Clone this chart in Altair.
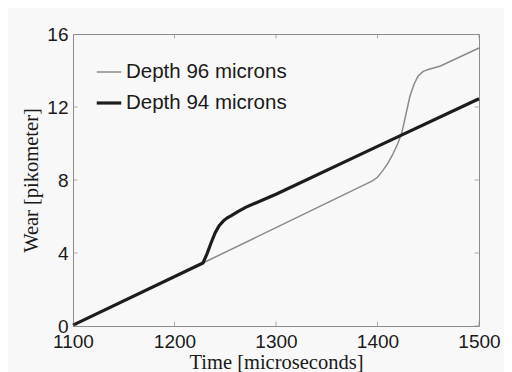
import altair as alt
import pandas as pd

series_names = ["Depth 96 microns", "Depth 94 microns"]

t96 = [1100, 1228, 1300, 1395, 1400, 1405, 1410, 1415, 1420, 1424, 1428, 1432, 1436, 1440, 1445, 1450, 1456, 1462, 1500]
w96 = [0.05, 3.45, 5.39, 7.95, 8.15, 8.5, 8.9, 9.4, 10.0, 10.6, 11.6, 12.6, 13.25, 13.7, 13.95, 14.05, 14.15, 14.25, 15.23]

t94 = [1100, 1228, 1232, 1236, 1240, 1244, 1248, 1252, 1256, 1262, 1270, 1300, 1400, 1500]
w94 = [0.05, 3.45, 3.95, 4.55, 5.1, 5.5, 5.75, 5.93, 6.05, 6.25, 6.5, 7.22, 9.84, 12.45]

x_ticks = [1100, 1200, 1300, 1400, 1500]
y_ticks = [0, 4, 8, 12, 16]

d96 = pd.DataFrame({"t": t96, "w": w96, "s": series_names[0]})
d94 = pd.DataFrame({"t": t94, "w": w94, "s": series_names[1]})
dx = pd.DataFrame({"t": x_ticks})
dy = pd.DataFrame({"w": y_ticks})

W, H = 406, 292
xs = alt.Scale(domain=[1100, 1500], nice=False, zero=False)
ys = alt.Scale(domain=[0, 16], nice=False)

color = alt.Color("s:N", scale=alt.Scale(domain=series_names, range=["#8a8a8a", "#1c1c1c"]),
                  legend=alt.Legend(title=None, orient="none", legendX=22, legendY=25,
                                    symbolType="stroke", symbolSize=600, labelFontSize=20.5,
                                    labelFont="Liberation Sans", labelColor="#1a1a1a",
                                    rowPadding=6, labelOffset=3, labelLimit=300))
sw = alt.StrokeWidth("s:N", scale=alt.Scale(domain=series_names, range=[1.5, 3.2]), legend=None)

xaxis = alt.Axis(values=x_ticks, format="d", ticks=False, domain=False, grid=False, labelFont="Liberation Sans",
                 labelFontSize=19, labelColor="#1a1a1a", labelPadding=6, title="Time [microseconds]",
                 titleFont="Liberation Serif", titleFontSize=20.5, titleFontWeight="normal",
                 titleColor="#1a1a1a", titlePadding=1, labelFlush=False)
yaxis = alt.Axis(values=y_ticks, format="d", ticks=False, domain=False, grid=False, labelFont="Liberation Sans",
                 labelFontSize=19, labelColor="#1a1a1a", labelPadding=5, title="Wear [pikometer]",
                 titleFont="Liberation Serif", titleFontSize=20.5, titleFontWeight="normal",
                 titleColor="#1a1a1a", titlePadding=5, labelFlush=False)

l96 = alt.Chart(d96).mark_line().encode(
    x=alt.X("t:Q", scale=xs, axis=xaxis), y=alt.Y("w:Q", scale=ys, axis=yaxis), color=color, strokeWidth=sw)
l94 = alt.Chart(d94).mark_line().encode(
    x=alt.X("t:Q", scale=xs), y=alt.Y("w:Q", scale=ys), color=color, strokeWidth=sw)

tick_top = alt.Chart(dx).mark_tick(orient="vertical", clip=True, size=9, thickness=1, color="#8c8c8c").encode(
    x=alt.X("t:Q", scale=xs), y=alt.value(0))
tick_bot = alt.Chart(dx).mark_tick(orient="vertical", clip=True, size=9, thickness=1, color="#8c8c8c").encode(
    x=alt.X("t:Q", scale=xs), y=alt.value(H))
tick_l = alt.Chart(dy).mark_tick(orient="horizontal", clip=True, size=9, thickness=1, color="#8c8c8c").encode(
    y=alt.Y("w:Q", scale=ys), x=alt.value(0))
tick_r = alt.Chart(dy).mark_tick(orient="horizontal", clip=True, size=9, thickness=1, color="#8c8c8c").encode(
    y=alt.Y("w:Q", scale=ys), x=alt.value(W))

chart = alt.layer(l96, l94, tick_top, tick_bot, tick_l, tick_r).properties(
    width=W, height=H,
    autosize=alt.AutoSizeParams(type="none"),
    padding={"left": 65, "top": 26, "right": 25, "bottom": 46},
    background="#f8f8f8",
).configure_view(stroke="#8c8c8c", strokeWidth=1)

chart.save("out.html", embed_options={"renderer": "svg", "actions": False})
